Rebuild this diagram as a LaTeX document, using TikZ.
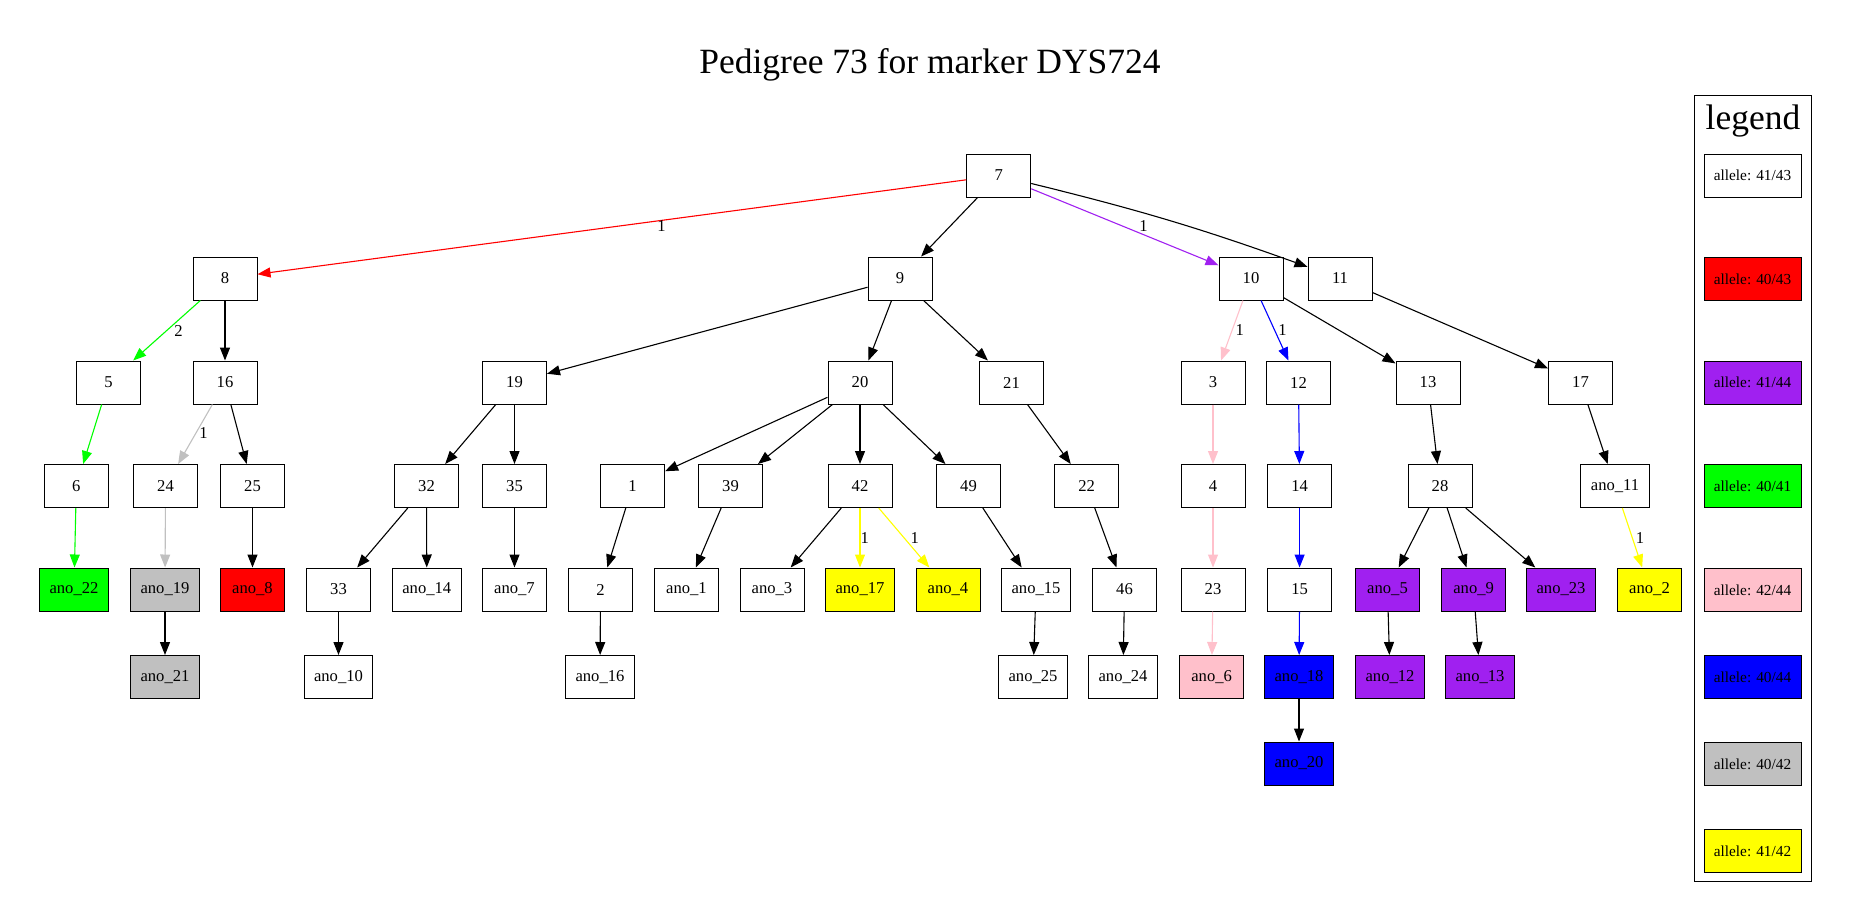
\documentclass[tikz,border=0pt]{standalone}
\usepackage{fontspec}
\setmainfont{Liberation Serif}
\usetikzlibrary{arrows.meta}

\definecolor{gvred}{RGB}{255,0,0}
\definecolor{gvpurple}{RGB}{160,32,240}
\definecolor{gvgreen}{RGB}{0,255,0}
\definecolor{gvpink}{RGB}{255,192,203}
\definecolor{gvblue}{RGB}{0,0,255}
\definecolor{gvgray}{RGB}{192,192,192}
\definecolor{gvyellow}{RGB}{255,255,0}
\def\nodefont{\fontsize{16.6}{19}\selectfont}
\def\bigfont{\fontsize{35.5}{42}\selectfont}
\tikzset{ind/.style={draw, line width=1pt, fill=white, minimum width=64pt, minimum height=43pt,
        inner xsep=10pt, inner ysep=0pt, font=\nodefont},
    tree/.style={-{Triangle[length=13pt,width=10pt]}, line width=1.1pt},
    elabel/.style={inner sep=0pt, font=\nodefont, text=black},
    legentry/.style={draw, line width=1pt, minimum width=97pt, minimum height=43pt,
        inner sep=0pt, font=\fontsize{15.3}{18}\selectfont}}

\begin{document}
\begin{tikzpicture}[x=1pt,y=-1pt]
    \useasboundingbox (0,0) rectangle (1849,921);
    \node[anchor=base, font=\bigfont] (title) at (930,73) {Pedigree 73 for marker DYS724};

    % generation 0 and 1
    \node[ind] (n7) at (998.7,175.5) {7};
    \node[ind] (n8) at (225,278.5) {8};
    \node[ind] (n9) at (900,278.5) {9};
    \node[ind] (n10) at (1251,278.5) {10};
    \node[ind] (n11) at (1340,278.5) {11};

    % generation 2
    \node[ind] (n5) at (108.5,382.5) {5};
    \node[ind] (n16) at (225,382.5) {16};
    \node[ind] (n19) at (514.5,382.5) {19};
    \node[ind] (n20) at (860,382.5) {20};
    \node[ind] (n21) at (1011.5,382.5) {21};
    \node[ind] (n3) at (1213,382.5) {3};
    \node[ind] (n12) at (1298.5,382.5) {12};
    \node[ind] (n13) at (1428,382.5) {13};
    \node[ind] (n17) at (1580.5,382.5) {17};

    % generation 3
    \node[ind] (n6) at (76.3,486) {6};
    \node[ind] (n24) at (165.5,486) {24};
    \node[ind] (n25) at (252.5,486) {25};
    \node[ind] (n32) at (426.5,486) {32};
    \node[ind] (n35) at (514.5,486) {35};
    \node[ind] (n1) at (632.6,486) {1};
    \node[ind] (n39) at (730.5,486) {39};
    \node[ind] (n42) at (860,486) {42};
    \node[ind] (n49) at (968.5,486) {49};
    \node[ind] (n22) at (1086.7,486) {22};
    \node[ind] (n4) at (1213,486) {4};
    \node[ind] (n14) at (1299.6,486) {14};
    \node[ind] (n28) at (1440,486) {28};
    \node[ind] (a11) at (1615,486) {ano\_11};

    % generation 4
    \node[ind, fill=gvgreen] (a22) at (74,589.5) {ano\_22};
    \node[ind, fill=gvgray] (a19) at (165,589.5) {ano\_19};
    \node[ind, fill=gvred] (a8) at (252.5,589.5) {ano\_8};
    \node[ind] (n33) at (338.5,589.5) {33};
    \node[ind] (a14) at (426.8,589.5) {ano\_14};
    \node[ind] (a7) at (514.5,589.5) {ano\_7};
    \node[ind] (n2) at (600.5,589.5) {2};
    \node[ind] (a1) at (686.5,589.5) {ano\_1};
    \node[ind] (a3) at (772,589.5) {ano\_3};
    \node[ind, fill=gvyellow] (a17) at (860,589.5) {ano\_17};
    \node[ind, fill=gvyellow] (a4) at (948,589.5) {ano\_4};
    \node[ind] (a15) at (1036,589.5) {ano\_15};
    \node[ind] (n46) at (1124.5,589.5) {46};
    \node[ind] (n23) at (1213,589.5) {23};
    \node[ind] (n15) at (1299.6,589.5) {15};
    \node[ind, fill=gvpurple] (a5) at (1387.5,589.5) {ano\_5};
    \node[ind, fill=gvpurple] (a9) at (1473.6,589.5) {ano\_9};
    \node[ind, fill=gvpurple] (a23) at (1561,589.5) {ano\_23};
    \node[ind, fill=gvyellow] (a2) at (1649.5,589.5) {ano\_2};

    % generation 5 and 6
    \node[ind, fill=gvgray] (a21) at (165,677) {ano\_21};
    \node[ind] (a10) at (338.5,677) {ano\_10};
    \node[ind] (a16) at (600,677) {ano\_16};
    \node[ind] (a25) at (1033,677) {ano\_25};
    \node[ind] (a24) at (1123,677) {ano\_24};
    \node[ind, fill=gvpink] (a6) at (1211.6,677) {ano\_6};
    \node[ind, fill=gvblue] (a18) at (1299,677) {ano\_18};
    \node[ind, fill=gvpurple] (a12) at (1390,677) {ano\_12};
    \node[ind, fill=gvpurple] (a13) at (1480,677) {ano\_13};
    \node[ind, fill=gvblue] (a20) at (1299,763.5) {ano\_20};

    % mutations
    \draw[tree, gvred] (n7) -- (n8) node[elabel, pos=.43, below] {1};
    \draw[tree, gvpurple] (n7) -- (n10) node[elabel, pos=.6, above=3pt] {1};
    \draw[tree, gvgreen] (n8) -- (n5) node[elabel, pos=.5, right=7pt] {2};
    \draw[tree, gvgreen] (n5) -- (n6);
    \draw[tree, gvgreen] (n6) -- (a22);
    \draw[tree, gvgray] (n16) -- (n24) node[elabel, pos=.48, right=3pt] {1};
    \draw[tree, gvgray] (n24) -- (a19);
    \draw[tree, gvpink] (n10) -- (n3) node[elabel, pos=.5, right=3pt] {1};
    \draw[tree, gvpink] (n3) -- (n4);
    \draw[tree, gvpink] (n4) -- (n23);
    \draw[tree, gvpink] (n23) -- (a6);
    \draw[tree, gvblue] (n10) -- (n12) node[elabel, pos=.5, right=3pt] {1};
    \draw[tree, gvblue] (n12) -- (n14);
    \draw[tree, gvblue] (n14) -- (n15);
    \draw[tree, gvblue] (n15) -- (a18);
    \draw[tree, gvyellow] (n42) -- (a17) node[elabel, pos=.5, right=0pt] {1};
    \draw[tree, gvyellow] (n42) -- (a4) node[elabel, pos=.5, right=6pt] {1};
    \draw[tree, gvyellow] (a11) -- (a2) node[elabel, pos=.5, right=3pt] {1};

    % plain descent
    \draw[tree] (n7) -- (n9);
    \draw[tree] (n7) to[bend left=3] (n11);
    \draw[tree] (n8) -- (n16);
    \draw[tree] (n9) -- (n19);
    \draw[tree] (n9) -- (n20);
    \draw[tree] (n9) -- (n21);
    \draw[tree] (n10) -- (n13);
    \draw[tree] (n11) -- (n17);
    \draw[tree] (n16) -- (n25);
    \draw[tree] (n19) -- (n32);
    \draw[tree] (n19) -- (n35);
    \draw[tree] (n20) -- (n1);
    \draw[tree] (n20) -- (n39);
    \draw[tree] (n20) -- (n42);
    \draw[tree] (n20) -- (n49);
    \draw[tree] (n21) -- (n22);
    \draw[tree] (n13) -- (n28);
    \draw[tree] (n17) -- (a11);
    \draw[tree] (n25) -- (a8);
    \draw[tree] (n32) -- (n33);
    \draw[tree] (n32) -- (a14);
    \draw[tree] (n35) -- (a7);
    \draw[tree] (n1) -- (n2);
    \draw[tree] (n39) -- (a1);
    \draw[tree] (n42) -- (a3);
    \draw[tree] (n49) -- (a15);
    \draw[tree] (n22) -- (n46);
    \draw[tree] (n28) -- (a5);
    \draw[tree] (n28) -- (a9);
    \draw[tree] (n28) -- (a23);
    \draw[tree] (a19) -- (a21);
    \draw[tree] (n33) -- (a10);
    \draw[tree] (n2) -- (a16);
    \draw[tree] (a15) -- (a25);
    \draw[tree] (n46) -- (a24);
    \draw[tree] (a5) -- (a12);
    \draw[tree] (a9) -- (a13);
    \draw[tree] (a18) -- (a20);

    % legend
    \draw[line width=1pt] (1694,95) rectangle (1811,881);
    \node[anchor=base, font=\bigfont] (legend) at (1753,129) {legend};
    \foreach \y/\col/\lab [count=\i] in {175.7/white/{41/43}, 278.8/gvred/{40/43}, 382.5/gvpurple/{41/44},
        486/gvgreen/{40/41}, 589.8/gvpink/{42/44}, 676.8/gvblue/{40/44}, 763.8/gvgray/{40/42}, 850.8/gvyellow/{41/42}}
        \node[legentry, fill=\col] (key\i) at (1752.5,\y) {allele: \lab};

\end{tikzpicture}
\end{document}
